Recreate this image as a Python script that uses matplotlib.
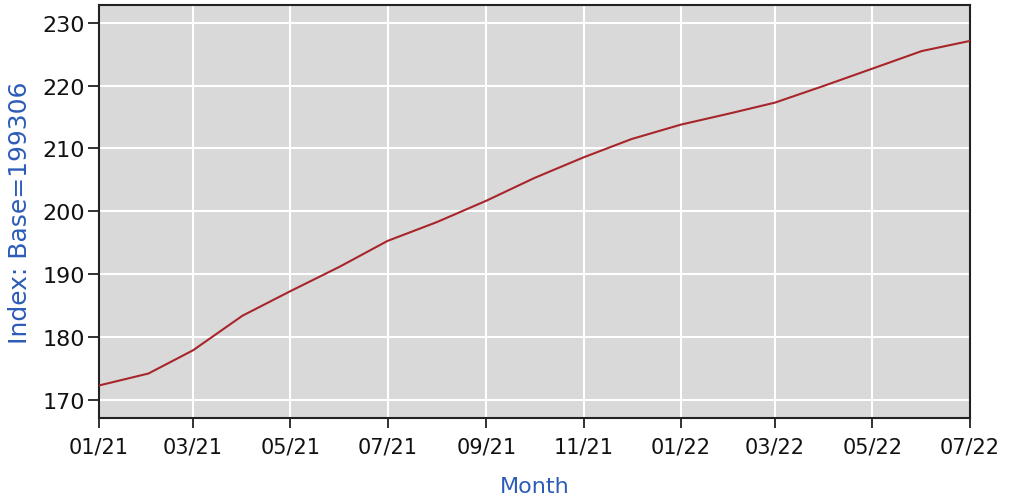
import matplotlib
matplotlib.use('Agg')
import matplotlib.pyplot as plt
import matplotlib.dates as mdates
import numpy as np
import datetime as dt

# 月份（每月一个点）
months = ['2021-01', '2021-02', '2021-03', '2021-04', '2021-05', '2021-06',
          '2021-07', '2021-08', '2021-09', '2021-10', '2021-11', '2021-12',
          '2022-01', '2022-02', '2022-03', '2022-04', '2022-05', '2022-06',
          '2022-07']
# 指数值（基期 199306）
index_values = [172.3, 174.2, 177.9, 183.4, 187.3, 191.2,
                195.3, 198.3, 201.7, 205.3, 208.6, 211.5,
                213.8, 215.6, 217.3, 220.0, 222.7, 225.5,
                227.1]
y_ticks = [170, 180, 190, 200, 210, 220, 230]

dates = [dt.datetime.strptime(m, '%Y-%m') for m in months]

fig = plt.figure(figsize=(10.1, 5.02), dpi=100)
ax = fig.add_axes([0.098, 0.165, 0.862, 0.824])
ax.set_facecolor('#d9d9d9')

ax.plot(dates, index_values, color='#a8262b', lw=1.5, zorder=3)

ax.set_xlim(dates[0], dates[-1])
ax.set_ylim(167.1, 232.9)
ax.set_yticks(y_ticks)
ax.xaxis.set_major_locator(mdates.MonthLocator(bymonth=[1, 3, 5, 7, 9, 11]))
ax.xaxis.set_major_formatter(mdates.DateFormatter('%m/%y'))

ax.grid(True, color='white', lw=1.5, zorder=1)
ax.set_axisbelow(True)

for s in ax.spines.values():
    s.set_color('#222222')
    s.set_linewidth(1.5)

ax.tick_params(axis='y', direction='out', length=8, width=1.3,
               labelsize=16, pad=2, colors='#222222', labelcolor='#111111')
ax.tick_params(axis='x', direction='out', length=7, width=1.3,
               labelsize=15, pad=6, colors='#222222', labelcolor='#111111')

ax.set_ylabel('Index: Base=199306', color='#2d5cb8', fontsize=18)
ax.yaxis.set_label_coords(-0.091, 0.5)
ax.set_xlabel('Month', color='#2d5cb8', fontsize=16)
ax.xaxis.set_label_coords(0.5006, -0.1635)
ax.xaxis.label.set_va('center')
ax.yaxis.label.set_va('center')

fig.savefig('out.png', dpi=100)
